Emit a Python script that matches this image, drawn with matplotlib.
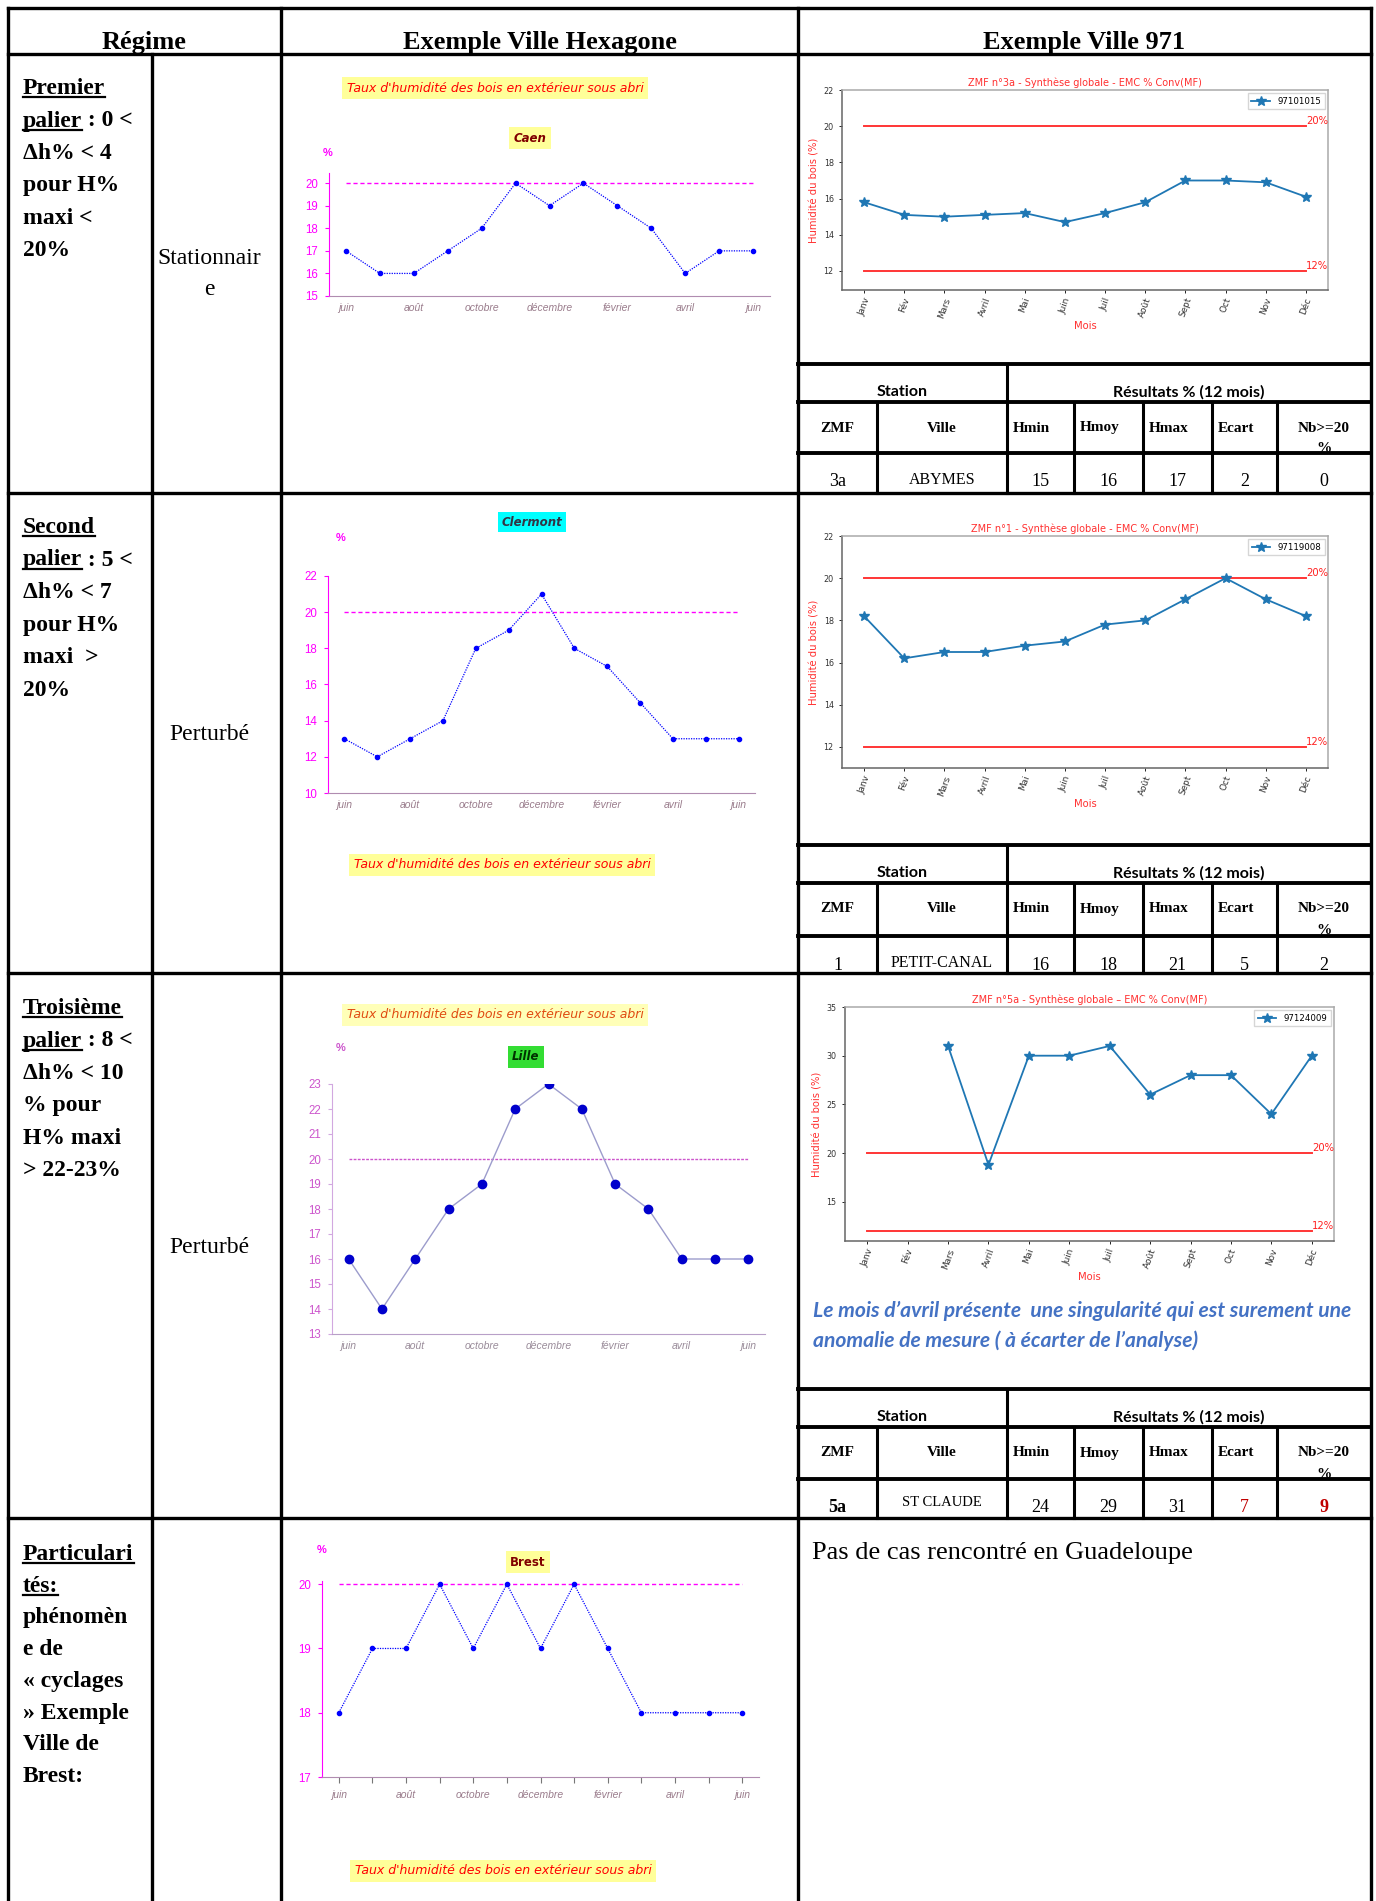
"""Régime d'humidité des bois : Hexagone / 971"""
import numpy as np
import matplotlib
matplotlib.use('Agg')
from matplotlib import pyplot as plt

W, H = 1376, 1901

# Hexagone data, juin -> juin (13 months)
mois_hex = ['juin', 'août', 'octobre', 'décembre', 'février', 'avril', 'juin']
caen = [17, 16, 16, 17, 18, 20, 19, 20, 19, 18, 16, 17, 17]
clermont = [13, 12, 13, 14, 18, 19, 21, 18, 17, 15, 13, 13, 13]
lille = [16, 14, 16, 18, 19, 22, 23, 22, 19, 18, 16, 16, 16]
brest = [18, 19, 19, 20, 19, 20, 19, 20, 19, 18, 18, 18, 18]
seuil_hex = 20

# 971 data
mois_971 = ['Janv', 'Fév', 'Mars', 'Avril', 'Mai', 'Juin', 'Juil', 'Août',
            'Sept', 'Oct', 'Nov', 'Déc']
abymes = [15.8, 15.1, 15.0, 15.1, 15.2, 14.7, 15.2, 15.8, 17.0, 17.0, 16.9, 16.1]
petit_canal = [18.2, 16.2, 16.5, 16.5, 16.8, 17.0, 17.8, 18.0, 19.0, 20.0, 19.0, 18.2]
st_claude = [np.nan, np.nan, 31, 18.8, 30, 30, 31, 26, 28, 28, 24, 30]
seuils_971 = [20, 12]

# result tables
res_headers = ['ZMF', 'Ville', 'Hmin', 'Hmoy', 'Hmax', 'Ecart', 'Nb>=20']
res_abymes = ['3a', 'ABYMES', '15', '16', '17', '2', '0']
res_petit_canal = ['1', 'PETIT-CANAL', '16', '18', '21', '5', '2']
res_st_claude = ['5a', 'ST CLAUDE', '24', '29', '31', '7', '9']

fig = plt.figure(figsize=(W / 100, H / 100), dpi=100)
renderer = fig.canvas.get_renderer()

# background axes in pixel coordinates (y down)
bg = fig.add_axes([0, 0, 1, 1])
bg.set_xlim(0, W)
bg.set_ylim(H, 0)
bg.axis('off')

SERIF = 'Liberation Serif'
SANS = 'Liberation Sans'


def px_axes(x0, y0, x1, y1):
    return fig.add_axes([x0 / W, 1 - y1 / H, (x1 - x0) / W, (y1 - y0) / H])


def hline(y, x0, x1, lw=2.4):
    bg.plot([x0, x1], [y, y], color='black', lw=lw, solid_capstyle='projecting', zorder=5)


def vline(x, y0, y1, lw=2.4):
    bg.plot([x, x], [y0, y1], color='black', lw=lw, solid_capstyle='projecting', zorder=5)


# ---- main grid
L, R, T = 8, 1371, 8
rows = [54, 493, 973, 1518]
hline(T, L, R)
for y in rows:
    hline(y, L, R)
vline(L, T, H)
vline(152, rows[0], H)
vline(281, T, H)
vline(798, T, H)
vline(R, T, H)

# header
hdr = dict(fontsize=19, fontweight='bold', family=SERIF, ha='center', va='baseline')
bg.text(144, 49, 'Régime', **hdr)
bg.text(540, 49, 'Exemple Ville Hexagone', **hdr)
bg.text(1084, 49, 'Exemple Ville 971', **hdr)


# ---- left column text with underlines
def write_lines(y0, lines, step=32.5):
    for k, pieces in enumerate(lines):
        x = 23
        y = y0 + k * step
        for txt, ul in pieces:
            t = bg.text(x, y, txt, fontsize=17, fontweight='bold', family=SERIF,
                        ha='left', va='baseline')
            w = t.get_window_extent(renderer).width
            if ul:
                bg.plot([x, x + w], [y + 3.5, y + 3.5], color='black', lw=1.6)
            x += w


write_lines(94, [[('Premier', True)], [('palier', True), (' : 0 <', False)],
                 [('Δh% < 4', False)], [('pour H%', False)], [('maxi <', False)],
                 [('20%', False)]])
write_lines(533, [[('Second', True)], [('palier', True), (' : 5 <', False)],
                  [('Δh% < 7', False)], [('pour H%', False)], [('maxi  >', False)],
                  [('20%', False)]])
write_lines(1014, [[('Troisième', True)], [('palier', True), (' : 8 <', False)],
                   [('Δh% < 10', False)], [('% pour', False)], [('H% maxi', False)],
                   [('> 22-23%', False)]])
write_lines(1560, [[('Particulari', True)], [('tés:', True)], [('phénomèn', False)],
                   [('e de', False)], [('« cyclages', False)], [('» Exemple', False)],
                   [('Ville de', False)], [('Brest:', False)]], step=31.7)

reg = dict(fontsize=17, family=SERIF, ha='center', va='baseline')
bg.text(209, 264, 'Stationnair', **reg)
bg.text(209, 295, 'e', **reg)
bg.text(209, 740, 'Perturbé', **reg)
bg.text(209, 1253, 'Perturbé', **reg)

bg.text(812, 1559, 'Pas de cas rencontré en Guadeloupe', fontsize=19, family=SERIF,
        ha='left', va='baseline')

note = dict(fontsize=15.2, family='Lato', fontweight='bold', style='italic',
            color='#4472C4', ha='left', va='center')
bg.text(813, 1311, "Le mois d’avril présente  une singularité qui est surement une", **note)
bg.text(813, 1341, "anomalie de mesure ( à écarter de l’analyse)", **note)


# ---- result sub-tables
col_x = [798, 877, 1007, 1074, 1143, 1212, 1277, 1371]


def result_table(top, mid1, mid2, bottom, values):
    hline(top, col_x[0], col_x[-1], lw=2.8)
    hline(mid1, col_x[0], col_x[-1], lw=2.8)
    hline(mid2, col_x[0], col_x[-1], lw=2.8)
    vline(col_x[2], top, bottom, lw=2.2)
    for x in col_x[1:2] + col_x[3:-1]:
        vline(x, mid1, bottom, lw=2.2)
    bg.text(902, mid1 - 10, 'Station', fontsize=11.5, fontweight='bold', family='Lato',
            ha='center', va='center')
    bg.text(1189, mid1 - 10, 'Résultats % (12 mois)', fontsize=11.5, fontweight='bold',
            family='Lato', ha='center', va='center')
    lab = dict(fontsize=11, fontweight='bold', family=SERIF, va='center', zorder=3)
    for i, h in enumerate(res_headers):
        x0, x1 = col_x[i], col_x[i + 1]
        if i in (0, 1, 6):
            bg.text((x0 + x1) / 2, mid1 + 26, h, ha='center', **lab)
        else:
            bg.text(x0 + 6, mid1 + 26, h, ha='left', **lab)
    bg.text((col_x[6] + col_x[7]) / 2, mid1 + 47, '%', ha='center', **lab)
    for i, v in enumerate(values):
        x = (col_x[i] + col_x[i + 1]) / 2
        kw = dict(fontsize=13, family=SERIF, ha='center', va='center', color='black')
        y = mid2 + 29
        if i == 1:
            kw['fontsize'] = 11.5 if v != 'ST CLAUDE' else 10.5
            y = mid2 + 27 if v != 'ST CLAUDE' else mid2 + 24
        if v == '5a':
            kw['fontweight'] = 'bold'
        if values is res_st_claude and i >= 5:
            kw['color'] = '#C00000'
            if i == 6:
                kw['fontweight'] = 'bold'
        bg.text(x, y, v, **kw)


result_table(364, 402, 453, 493, res_abymes)
result_table(845, 883, 936, 973, res_petit_canal)
result_table(1389, 1427, 1479, 1518, res_st_claude)

# ---- Hexagone charts
std_style = dict(line='#0000FF', ls=(0, (1, 1)), lw=0.9, ms=3, mc='#0000FF',
                 seuil='#FF00FF', seuil_ls=(0, (3, 2)), ycol='#FF00FF',
                 yspine='#FF00FF', xspine='#B08CB0', xcol='#9A7C8C')
lille_style = dict(line='#9C9CCC', ls='-', lw=1.0, ms=6, mc='#0000CC',
                   seuil='#CC55CC', seuil_ls=(0, (2, 1)), ycol='#CC55CC',
                   yspine='#D2A8E0', xspine='#B8A0C8', xcol='#9A8C9A')


def hex_chart(box, values, ylim, yticks, st, minor=False):
    ax = px_axes(*box)
    ax.set_facecolor('none')
    x = np.arange(len(values))
    ax.plot([x[0], x[-1]], [seuil_hex, seuil_hex], color=st['seuil'],
            ls=st['seuil_ls'], lw=1.0)
    ax.plot(x, values, color=st['line'], ls=st['ls'], lw=st['lw'])
    ax.plot(x, values, ls='none', marker='o', ms=st['ms'], color=st['mc'])
    ax.set_xlim(-0.5, 12.5)
    ax.set_ylim(*ylim)
    ax.set_yticks(yticks)
    ax.set_xticks(x[::2])
    ax.set_xticklabels(mois_hex, fontsize=7.5, style='italic', family=SANS,
                       color=st['xcol'])
    ax.set_yticklabels([str(v) for v in yticks], fontsize=8.3, family=SANS,
                       color=st['ycol'])
    for s in ('top', 'right'):
        ax.spines[s].set_visible(False)
    ax.spines['left'].set_color(st['yspine'])
    ax.spines['bottom'].set_color(st['xspine'])
    ax.tick_params(axis='y', length=3, width=0.8, colors=st['yspine'], pad=5)
    ax.tick_params(axis='y', labelcolor=st['ycol'])
    ax.tick_params(axis='x', length=0, pad=5, labelcolor=st['xcol'])
    if minor:
        ax.set_xticks(x, minor=True)
        ax.tick_params(axis='x', which='both', length=4, width=0.8,
                       color='#777777', direction='out')
    return ax


hex_chart((329, 173, 770, 296), caen, (15, 20.45), list(range(15, 21)), std_style)
hex_chart((328, 576, 755, 793), clermont, (10, 22), list(range(10, 23, 2)), std_style)
hex_chart((332, 1084, 765, 1334), lille, (13, 23), list(range(13, 24)), lille_style)
hex_chart((322, 1581, 759, 1777), brest, (17, 20.05), list(range(17, 21)), std_style,
          minor=True)

taux = "Taux d'humidité des bois en extérieur sous abri"
tbox = dict(boxstyle='square,pad=0.35', fc='#FFFF99', ec='none')
tkw = dict(fontsize=9, style='italic', family='DejaVu Sans', ha='center', va='center')
bg.text(495, 88, taux, color='#FF0000', bbox=tbox, **tkw)
bg.text(502, 865, taux, color='#FF0000', bbox=tbox, **tkw)
bg.text(495, 1015, taux, color='#E04A10',
        bbox=dict(boxstyle='square,pad=0.35', fc='#FFFFB8', ec='none'), **tkw)
bg.text(503, 1871, taux, color='#FF0000', bbox=tbox, **tkw)

nkw = dict(fontsize=8.5, style='italic', fontweight='bold', family='DejaVu Sans',
           ha='center', va='center')
bg.text(530, 138, 'Caen', color='#800000', bbox=dict(boxstyle='square,pad=0.4',
        fc='#FFFF99', ec='none'), **nkw)
bg.text(532, 522, 'Clermont', color='#333344', bbox=dict(boxstyle='square,pad=0.3',
        fc='#00FFFF', ec='none'), **nkw)
bg.text(526, 1057, 'Lille', color='#003300', bbox=dict(boxstyle='square,pad=0.4',
        fc='#33DD33', ec='none'), **nkw)
bg.text(528, 1562, 'Brest', color='#800000', bbox=dict(boxstyle='square,pad=0.35',
        fc='#FFFF99', ec='none'), **dict(nkw, style='normal'))

pkw = dict(fontsize=8, fontweight='bold', family=SANS, ha='center', va='center')
bg.text(328, 153, '%', color='#FF00FF', **pkw)
bg.text(341, 538, '%', color='#FF00FF', **pkw)
bg.text(341, 1048, '%', color='#CC55CC', **pkw)
bg.text(322, 1550, '%', color='#FF00FF', **pkw)


# ---- 971 charts
def zmf_chart(box, values, station, title, ylim, yticks):
    ax = px_axes(*box)
    x = np.arange(len(mois_971))
    for s in seuils_971:
        ax.plot([x[0], x[-1]], [s, s], color='#FF2020', lw=1.4, alpha=0.9)
        ax.text(x[-1], s, '%d%%' % s, color='#FF2020', fontsize=7.2,
                ha='left', va='bottom')
    ax.plot(x, values, marker='*', ms=7.5, color='#1f77b4', lw=1.3, label=station)
    ax.set_xlim(-0.55, 11.55)
    ax.set_ylim(*ylim)
    ax.set_yticks(yticks)
    ax.set_xticks(x)
    ax.set_xticklabels(mois_971, rotation=70, fontsize=6.4, color='#333333')
    ax.tick_params(axis='y', labelsize=5.8, labelcolor='#333333', length=2.5, width=0.6)
    ax.tick_params(axis='x', length=2.5, width=0.6, pad=2)
    ax.set_title(title, color='#FF3030', fontsize=7, pad=3)
    ax.set_ylabel('Humidité du bois (%)', color='#FF3030', fontsize=7.2, labelpad=3)
    ax.set_xlabel('Mois', color='#FF3030', fontsize=7.2, labelpad=1)
    for s in ('top', 'right'):
        ax.spines[s].set_color('#AAAAAA')
    for s in ('left', 'bottom'):
        ax.spines[s].set_color('#666666')
    for s in ax.spines.values():
        s.set_linewidth(1.1)
    ax.legend(loc='upper right', fontsize=6.2, borderaxespad=0.4, handlelength=2.2,
              fancybox=False, edgecolor='#CCCCCC')
    return ax


zmf_chart((842, 90, 1328, 290), abymes, '97101015',
          'ZMF n°3a - Synthèse globale - EMC % Conv(MF)', (10.95, 22),
          list(range(12, 23, 2)))
zmf_chart((842, 536, 1328, 768), petit_canal, '97119008',
          'ZMF n°1 - Synthèse globale - EMC % Conv(MF)', (11, 22),
          list(range(12, 23, 2)))
zmf_chart((845, 1007, 1334, 1241), st_claude, '97124009',
          'ZMF n°5a - Synthèse globale – EMC % Conv(MF)', (10.97, 35),
          list(range(15, 36, 5)))

fig.savefig('out.png', dpi=100)
